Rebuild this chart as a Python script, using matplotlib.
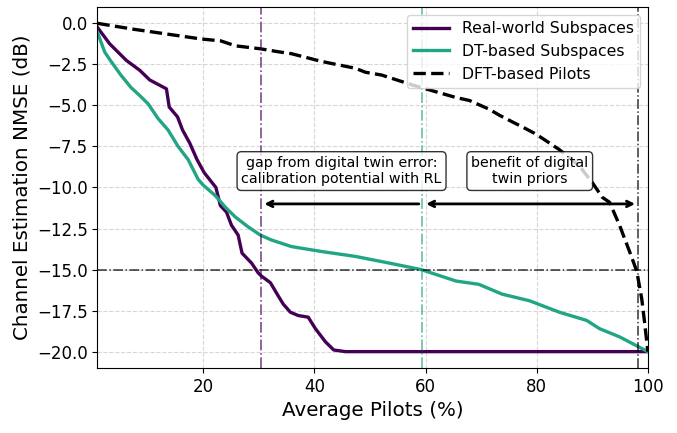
import numpy as np
import matplotlib.pyplot as plt

# Real-world subspaces
real_x = [1, 3.2, 6.2, 8.6, 10.4, 13.4, 13.9, 15.4, 16.3, 17.6, 18.9, 20.2, 22.3, 23.1, 24.2,
          25.1, 26.3, 27.0, 28.7, 29.9, 30.5, 32.1, 33.5, 34.4, 35.7, 37.1, 38.9, 40.2, 42.0,
          43.5, 45.6, 60, 80, 100]
real_y = [-0.25, -1.25, -2.26, -2.86, -3.45, -3.99, -5.1, -5.7, -6.5, -7.3, -8.3, -9.1, -10.0,
          -11.1, -11.5, -12.3, -12.9, -14.0, -14.6, -15.2, -15.4, -15.8, -16.6, -17.1, -17.6,
          -17.8, -17.9, -18.6, -19.4, -19.9, -20.0, -20.0, -20.0, -20.0]

# DT-based subspaces
dt_x = [1, 2.3, 3.4, 5.2, 7.0, 8.6, 10.1, 11.9, 13.7, 15.5, 17.3, 19.1, 20.0, 22.2, 24.0, 25.8,
        28.1, 30.3, 32.3, 35.9, 41.3, 47.4, 53.4, 59.2, 65.5, 69.6, 73.8, 78.7, 84.1, 89.0,
        91.3, 94.9, 100]
dt_y = [-0.55, -1.75, -2.3, -3.15, -3.9, -4.4, -4.9, -5.8, -6.5, -7.5, -8.3, -9.5, -9.85,
        -10.5, -11.2, -11.8, -12.4, -12.9, -13.2, -13.6, -13.9, -14.2, -14.6, -15.0, -15.7,
        -15.9, -16.5, -16.9, -17.6, -18.1, -18.6, -19.1, -20.0]

# DFT-based pilots
dft_x = [1, 7.5, 19.6, 23.2, 25.8, 30.3, 33.5, 35.9, 41.3, 47.4, 49.2, 52.1, 57.6, 62.5, 65.5,
         67.9, 71.5, 73.3, 75.6, 78.1, 79.6, 81.0, 84.1, 87.7, 90.0, 91.8, 93.1, 94.9, 96.7,
         98.0, 98.9, 99.4, 100]
dft_y = [0.0, -0.36, -0.95, -1.07, -1.37, -1.55, -1.73, -1.85, -2.32, -2.74, -2.98, -3.15,
         -3.75, -4.23, -4.52, -4.7, -5.24, -5.6, -6.0, -6.43, -6.7, -7.0, -7.7, -8.7, -9.7,
         -10.6, -10.9, -12.3, -13.9, -15.1, -16.8, -18.2, -20.0]

target_nmse = -15
x_real, x_dt, x_dft = 30.5, 59.3, 98.2

purple = '#440154'
teal = '#21a585'

fig, ax = plt.subplots(figsize=(6.77, 4.33), dpi=100)
fig.subplots_adjust(left=0.144, right=0.957, top=0.984, bottom=0.150)

ax.plot(real_x, real_y, color=purple, lw=2.4, label='Real-world Subspaces')
ax.plot(dt_x, dt_y, color=teal, lw=2.4, label='DT-based Subspaces')
ax.plot(dft_x, dft_y, color='black', lw=2.4, ls='--', label='DFT-based Pilots')

ax.axhline(target_nmse, color='black', ls='-.', lw=1.1, alpha=0.8)
ax.axvline(x_real, color=purple, ls='-.', lw=1.2, alpha=0.7)
ax.axvline(x_dt, color=teal, ls='-.', lw=1.2, alpha=0.7)
ax.axvline(x_dft, color='black', ls='-.', lw=1.1, alpha=0.8)

arrow_y = -11
ax.annotate('', xy=(x_real, arrow_y), xytext=(x_dt, arrow_y),
            arrowprops=dict(arrowstyle='->', color='black', lw=2))
ax.annotate('', xy=(x_dft, arrow_y), xytext=(x_dt + 0.3, arrow_y),
            arrowprops=dict(arrowstyle='<->', color='black', lw=2))

box = dict(boxstyle='round', fc='white', ec='black', alpha=0.8)
ax.text((x_real + x_dt) / 2, -9, 'gap from digital twin error:\ncalibration potential with RL',
        ha='center', va='center', fontsize=10.3, bbox=box)
ax.text((x_dt + x_dft) / 2, -9, 'benefit of digital\ntwin priors',
        ha='center', va='center', fontsize=10.3, bbox=box)

ax.set_xlim(1, 100)
ax.set_ylim(-21, 1)
ax.set_xticks([20, 40, 60, 80, 100])
ax.set_yticks(np.arange(-20, 0.1, 2.5))
ax.tick_params(labelsize=12)
ax.set_xlabel('Average Pilots (%)', fontsize=14.3)
ax.set_ylabel('Channel Estimation NMSE (dB)', fontsize=14.3)
ax.grid(True, ls='--', alpha=0.5)
ax.legend(loc='upper right', fontsize=11.3, handlelength=2.3)

fig.savefig('out.png', dpi=100)
